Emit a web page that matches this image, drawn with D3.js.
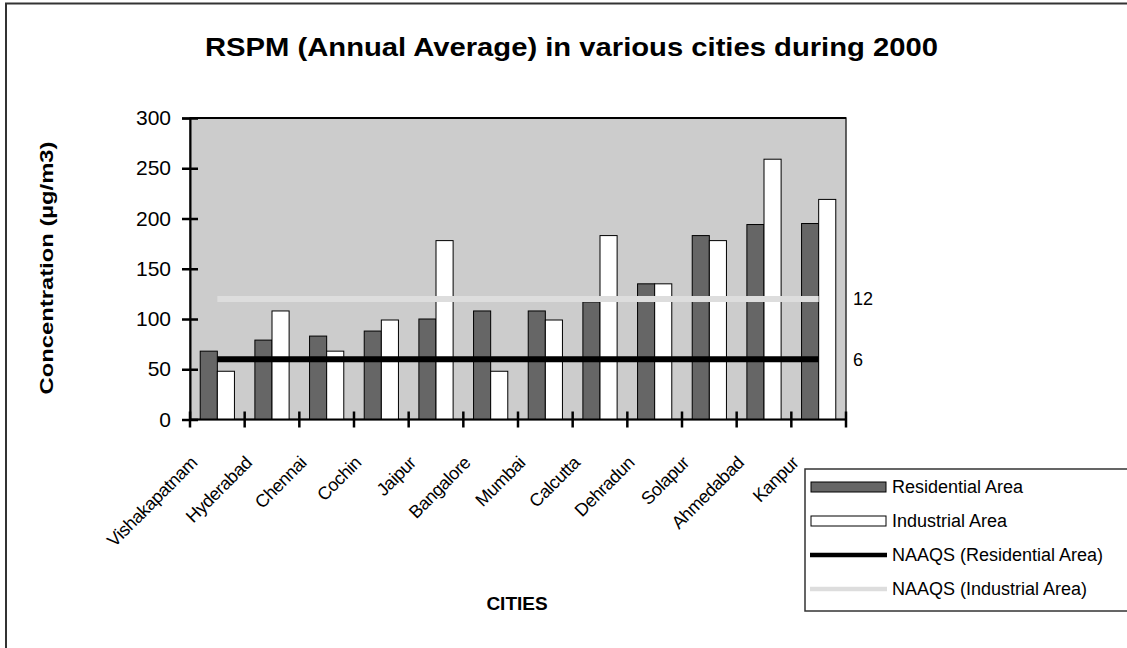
<!DOCTYPE html>
<html><head><meta charset="utf-8">
<script src="https://cdn.jsdelivr.net/npm/d3@7"></script>
<style>body{margin:0;background:#fff}svg{display:block;font-family:Arial,"Liberation Sans",sans-serif}</style>
</head><body><svg id="c" width="1127" height="648"></svg>
<script>
const cities = ["Vishakapatnam","Hyderabad","Chennai","Cochin","Jaipur","Bangalore","Mumbai","Calcutta","Dehradun","Solapur","Ahmedabad","Kanpur"];
const residential = [68,79,83,88,100,108,108,117,135,183,194,195];
const industrial = [48,108,68,99,178,48,99,183,135,178,259,219];
const naaqsResidential = 60;
const naaqsIndustrial = 120;
const naaqsLabels = ["6","12"];
const yTicks = [0,50,100,150,200,250,300];
const seriesNames = ["Residential Area","Industrial Area","NAAQS (Residential Area)","NAAQS (Industrial Area)"];
const title = "RSPM (Annual Average) in various cities during 2000";
const yTitle = "Concentration (µg/m3)";
const xTitle = "CITIES";

const svg = d3.select("#c");
const C = {dark:"#666666", light:"#ffffff", bg:"#cccccc", lineRes:"#000000", lineInd:"#dddddd"};
const L = 190, R = 846, T = 118, B = 419.5;

// outer border (bottom and right edges fall outside the picture)
svg.append("rect").attr("x",6).attr("y",3.5).attr("width",1130).attr("height",700)
  .attr("fill","#fff").attr("stroke","#333").attr("stroke-width",2);

const x = d3.scaleBand().domain(cities).range([L,R]).paddingInner(0).paddingOuter(0);
const bw = x.bandwidth();
const x1 = d3.scaleBand().domain(["res","ind"]).range([bw*0.187, bw*0.813]).padding(0);
const y = d3.scaleLinear().domain([0,300]).range([B,T]);

// plot area
svg.append("rect").attr("x",L).attr("y",T).attr("width",R-L).attr("height",B-T)
  .attr("fill",C.bg).attr("stroke","#333").attr("stroke-width",1.5);
svg.append("line").attr("x1",L).attr("x2",R).attr("y1",T).attr("y2",T).attr("stroke","#000").attr("stroke-width",2);

// bars
const g = svg.append("g");
const data = cities.map((c,i)=>({c, res:residential[i], ind:industrial[i]}));
g.selectAll(".res").data(data).join("rect")
  .attr("x",d=>x(d.c)+x1("res")).attr("width",x1.bandwidth())
  .attr("y",d=>y(d.res)).attr("height",d=>B-y(d.res))
  .attr("fill",C.dark).attr("stroke","#000").attr("stroke-width",1);
g.selectAll(".ind").data(data).join("rect")
  .attr("x",d=>x(d.c)+x1("ind")).attr("width",x1.bandwidth())
  .attr("y",d=>y(d.ind)).attr("height",d=>B-y(d.ind))
  .attr("fill",C.light).attr("stroke","#000").attr("stroke-width",1);

// NAAQS lines
const xc = c => x(c)+bw/2;
const line = d3.line().x(d=>xc(d.c)).y(d=>y(d.v));
svg.append("path").datum(cities.map(c=>({c,v:naaqsIndustrial})))
  .attr("d",line).attr("fill","none").attr("stroke",C.lineInd).attr("stroke-width",6);
svg.append("path").datum(cities.map(c=>({c,v:naaqsResidential})))
  .attr("d",line).attr("fill","none").attr("stroke",C.lineRes).attr("stroke-width",6);

// labels at right of lines
svg.append("text").attr("x",853).attr("y",y(naaqsIndustrial)).attr("dy","0.36em")
  .attr("font-size",18).text(naaqsLabels[1]);
svg.append("text").attr("x",853).attr("y",y(naaqsResidential)).attr("dy","0.36em")
  .attr("font-size",18).text(naaqsLabels[0]);

// y axis
const ya = svg.append("g").attr("transform",`translate(${L},0)`)
  .call(d3.axisLeft(y).tickValues(yTicks).tickSize(8).tickPadding(11));
ya.select(".domain").attr("stroke","#000").attr("stroke-width",2);
ya.selectAll(".tick line").attr("stroke","#000").attr("stroke-width",2.5).attr("x2",8).attr("x1",-8);
ya.selectAll(".tick text").attr("font-size",21).attr("font-family","Arial, 'Liberation Sans'").attr("fill","#000").attr("x",-19);

// x axis
const xa = svg.append("g").attr("transform",`translate(0,${B})`);
xa.append("line").attr("x1",L).attr("x2",R).attr("stroke","#000").attr("stroke-width",2);
const bounds = cities.map(c=>x(c)).concat([R]);
xa.selectAll(".xt").data(bounds).join("line")
  .attr("x1",d=>d).attr("x2",d=>d).attr("y1",-8).attr("y2",8)
  .attr("stroke","#000").attr("stroke-width",2.5);
svg.append("g").selectAll(".xl").data(cities).join("text")
  .attr("transform",d=>`translate(${xc(d)-19},464) rotate(-45)`)
  .attr("text-anchor","end").attr("font-size",18).attr("letter-spacing",-0.4).text(d=>d);

// titles
svg.append("text").attr("x",571.5).attr("y",56).attr("text-anchor","middle")
  .attr("font-size",25).attr("font-weight","bold").attr("textLength",733).attr("lengthAdjust","spacingAndGlyphs").text(title);
svg.append("text").attr("transform","translate(53,268) rotate(-90)").attr("text-anchor","middle")
  .attr("font-size",19).attr("font-weight","bold").attr("textLength",253).attr("lengthAdjust","spacingAndGlyphs").text(yTitle);
svg.append("text").attr("x",517).attr("y",610).attr("text-anchor","middle")
  .attr("font-size",19).attr("font-weight","bold").text(xTitle);

// legend
const lg = svg.append("g");
lg.append("rect").attr("x",805).attr("y",469).attr("width",340).attr("height",142)
  .attr("fill","#fff").attr("stroke","#333").attr("stroke-width",1.5);
const items = [
  {n:seriesNames[0], t:"rect", f:C.dark},
  {n:seriesNames[1], t:"rect", f:C.light},
  {n:seriesNames[2], t:"line", f:C.lineRes},
  {n:seriesNames[3], t:"line", f:C.lineInd}
];
const ly = d3.scalePoint().domain(items.map(d=>d.n)).range([487,589]);
items.forEach(it=>{
  const yy = ly(it.n);
  if(it.t==="rect") lg.append("rect").attr("x",811).attr("y",yy-5).attr("width",75).attr("height",10)
      .attr("fill",it.f).attr("stroke","#000").attr("stroke-width",1);
  else lg.append("line").attr("x1",810).attr("x2",887).attr("y1",yy).attr("y2",yy)
      .attr("stroke",it.f).attr("stroke-width",4.5);
  lg.append("text").attr("x",892).attr("y",yy).attr("dy","0.36em").attr("font-size",18).text(it.n);
});
</script></body></html>
